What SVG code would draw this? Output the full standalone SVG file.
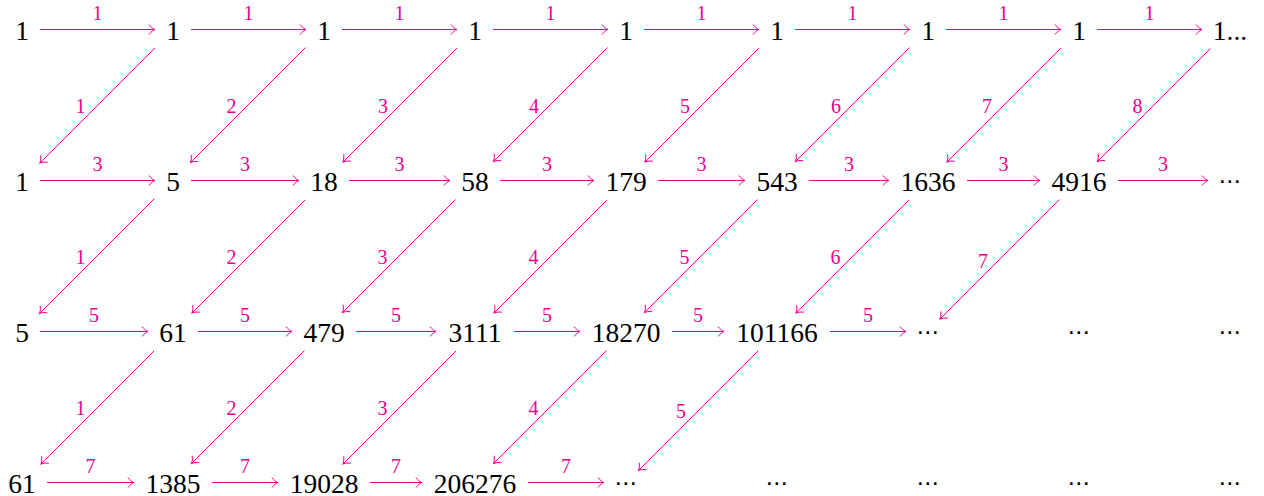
<svg xmlns="http://www.w3.org/2000/svg" width="1264" height="496" viewBox="0 0 1264 496">
<style>
.n{font-family:"Liberation Serif","DejaVu Serif",serif;font-size:27.5px;fill:#000;text-anchor:middle}
.d{font-family:"DejaVu Sans",sans-serif;font-size:23px;fill:#000;text-anchor:middle}
.l{font-family:"Liberation Serif","DejaVu Serif",serif;font-size:20px;fill:#EC008C;text-anchor:middle}
.a{stroke:#EC008C;stroke-width:1;fill:none;marker-end:url(#ah)}
</style>
<defs>
<marker id="ah" markerUnits="userSpaceOnUse" viewBox="-7 -6 8 12" refX="0" refY="0" markerWidth="8" markerHeight="12" orient="auto" overflow="visible">
<path d="M -6 -5 C -4 -2.2 -1.6 -0.7 0 0 C -1.6 0.7 -4 2.2 -6 5" fill="none" stroke="#EC008C" stroke-width="1"/>
</marker>
</defs>
<rect width="1264" height="496" fill="#fff"/>
<g id="nodes">
<g id="n0-0"><text class="n" x="22" y="39.5">1</text></g>
<g id="n0-1"><text class="n" x="173" y="39.5">1</text></g>
<g id="n0-2"><text class="n" x="324" y="39.5">1</text></g>
<g id="n0-3"><text class="n" x="475" y="39.5">1</text></g>
<g id="n0-4"><text class="n" x="626" y="39.5">1</text></g>
<g id="n0-5"><text class="n" x="777" y="39.5">1</text></g>
<g id="n0-6"><text class="n" x="928" y="39.5">1</text></g>
<g id="n0-7"><text class="n" x="1079" y="39.5">1</text></g>
<g id="n0-8"><text class="n" x="1230" y="39.5">1...</text></g>
<g id="n1-0"><text class="n" x="22" y="190.5">1</text></g>
<g id="n1-1"><text class="n" x="173" y="190.5">5</text></g>
<g id="n1-2"><text class="n" x="324" y="190.5">18</text></g>
<g id="n1-3"><text class="n" x="475" y="190.5">58</text></g>
<g id="n1-4"><text class="n" x="626" y="190.5">179</text></g>
<g id="n1-5"><text class="n" x="777" y="190.5">543</text></g>
<g id="n1-6"><text class="n" x="928" y="190.5">1636</text></g>
<g id="n1-7"><text class="n" x="1079" y="190.5">4916</text></g>
<g id="n1-8"><text class="d" x="1230" y="188.5">⋯</text></g>
<g id="n2-0"><text class="n" x="22" y="341.5">5</text></g>
<g id="n2-1"><text class="n" x="173" y="341.5">61</text></g>
<g id="n2-2"><text class="n" x="324" y="341.5">479</text></g>
<g id="n2-3"><text class="n" x="475" y="341.5">3111</text></g>
<g id="n2-4"><text class="n" x="626" y="341.5">18270</text></g>
<g id="n2-5"><text class="n" x="777" y="341.5">101166</text></g>
<g id="n2-6"><text class="d" x="928" y="339.5">⋯</text></g>
<g id="n2-7"><text class="d" x="1079" y="339.5">⋯</text></g>
<g id="n2-8"><text class="d" x="1230" y="339.5">⋯</text></g>
<g id="n3-0"><text class="n" x="22" y="492.5">61</text></g>
<g id="n3-1"><text class="n" x="173" y="492.5">1385</text></g>
<g id="n3-2"><text class="n" x="324" y="492.5">19028</text></g>
<g id="n3-3"><text class="n" x="475" y="492.5">206276</text></g>
<g id="n3-4"><text class="d" x="626" y="490.5">⋯</text></g>
<g id="n3-5"><text class="d" x="777" y="490.5">⋯</text></g>
<g id="n3-6"><text class="d" x="928" y="490.5">⋯</text></g>
<g id="n3-7"><text class="d" x="1079" y="490.5">⋯</text></g>
<g id="n3-8"><text class="d" x="1230" y="490.5">⋯</text></g>
</g>
<g id="connectors">
<path class="a" d="M40 29.5H155"/><text class="l" x="97.5" y="20">1</text>
<path class="a" d="M191 29.5H306"/><text class="l" x="248.5" y="20">1</text>
<path class="a" d="M342 29.5H457"/><text class="l" x="399.5" y="20">1</text>
<path class="a" d="M493 29.5H608"/><text class="l" x="550.5" y="20">1</text>
<path class="a" d="M644 29.5H759"/><text class="l" x="701.5" y="20">1</text>
<path class="a" d="M795 29.5H910"/><text class="l" x="852.5" y="20">1</text>
<path class="a" d="M946 29.5H1061"/><text class="l" x="1003.5" y="20">1</text>
<path class="a" d="M1097 29.5H1202"/><text class="l" x="1149.5" y="20">1</text>

<path class="a" d="M40 180.5H155"/><text class="l" x="97.5" y="171">3</text>
<path class="a" d="M191 180.5H299"/><text class="l" x="245" y="171">3</text>
<path class="a" d="M349 180.5H450"/><text class="l" x="399.5" y="171">3</text>
<path class="a" d="M500 180.5H594"/><text class="l" x="547" y="171">3</text>
<path class="a" d="M658 180.5H745"/><text class="l" x="701.5" y="171">3</text>
<path class="a" d="M809 180.5H889"/><text class="l" x="849" y="171">3</text>
<path class="a" d="M967 180.5H1040"/><text class="l" x="1003.5" y="171">3</text>
<path class="a" d="M1118 180.5H1208"/><text class="l" x="1163" y="171">3</text>

<path class="a" d="M40 331.5H148"/><text class="l" x="94" y="322">5</text>
<path class="a" d="M198 331.5H292"/><text class="l" x="245" y="322">5</text>
<path class="a" d="M356 331.5H436"/><text class="l" x="396" y="322">5</text>
<path class="a" d="M514 331.5H580"/><text class="l" x="547" y="322">5</text>
<path class="a" d="M672 331.5H724"/><text class="l" x="698" y="322">5</text>
<path class="a" d="M830 331.5H906"/><text class="l" x="868" y="322">5</text>

<path class="a" d="M47 482.5H134"/><text class="l" x="90.5" y="473">7</text>
<path class="a" d="M212 482.5H278"/><text class="l" x="245" y="473">7</text>
<path class="a" d="M370 482.5H422"/><text class="l" x="396" y="473">7</text>
<path class="a" d="M528 482.5H604"/><text class="l" x="566" y="473">7</text>

<path class="a" d="M155 48L40 163"/><text class="l" x="80.5" y="113">1</text>
<path class="a" d="M305.5 47.5L190.5 162.5"/><text class="l" x="231.5" y="113">2</text>
<path class="a" d="M457 48L343 162"/><text class="l" x="383" y="112.5">3</text>
<path class="a" d="M607.5 47.5L493.5 161.5"/><text class="l" x="534" y="112.5">4</text>
<path class="a" d="M759 48L645 162"/><text class="l" x="685" y="112.5">5</text>
<path class="a" d="M909.5 47.5L795.5 161.5"/><text class="l" x="836" y="112.5">6</text>
<path class="a" d="M1061 48L947 162"/><text class="l" x="987" y="112.5">7</text>
<path class="a" d="M1210.5 48.5L1097.5 161.5"/><text class="l" x="1137.5" y="113">8</text>

<path class="a" d="M154.5 198.5L39.5 313.5"/><text class="l" x="80.5" y="264">1</text>
<path class="a" d="M305 200L192 313"/><text class="l" x="231.5" y="264">2</text>
<path class="a" d="M455.5 199.5L342.5 312.5"/><text class="l" x="382.5" y="264">3</text>
<path class="a" d="M607 200L494 313"/><text class="l" x="533.5" y="264">4</text>
<path class="a" d="M757.5 199.5L644.5 312.5"/><text class="l" x="684.5" y="264">5</text>
<path class="a" d="M909 200L796 313"/><text class="l" x="835.5" y="264">6</text>
<path class="a" d="M1059.5 199.5L940 319"/><text class="l" x="983" y="267.5">7</text>

<path class="a" d="M154 351L41 464"/><text class="l" x="80.5" y="415">1</text>
<path class="a" d="M304.5 350.5L191.5 463.5"/><text class="l" x="231.5" y="415">2</text>
<path class="a" d="M456 351L343 464"/><text class="l" x="382.5" y="415">3</text>
<path class="a" d="M606.5 350.5L493.5 463.5"/><text class="l" x="533.5" y="415">4</text>
<path class="a" d="M758 351L638.5 470.5"/><text class="l" x="681" y="418">5</text>
</g>
</svg>
